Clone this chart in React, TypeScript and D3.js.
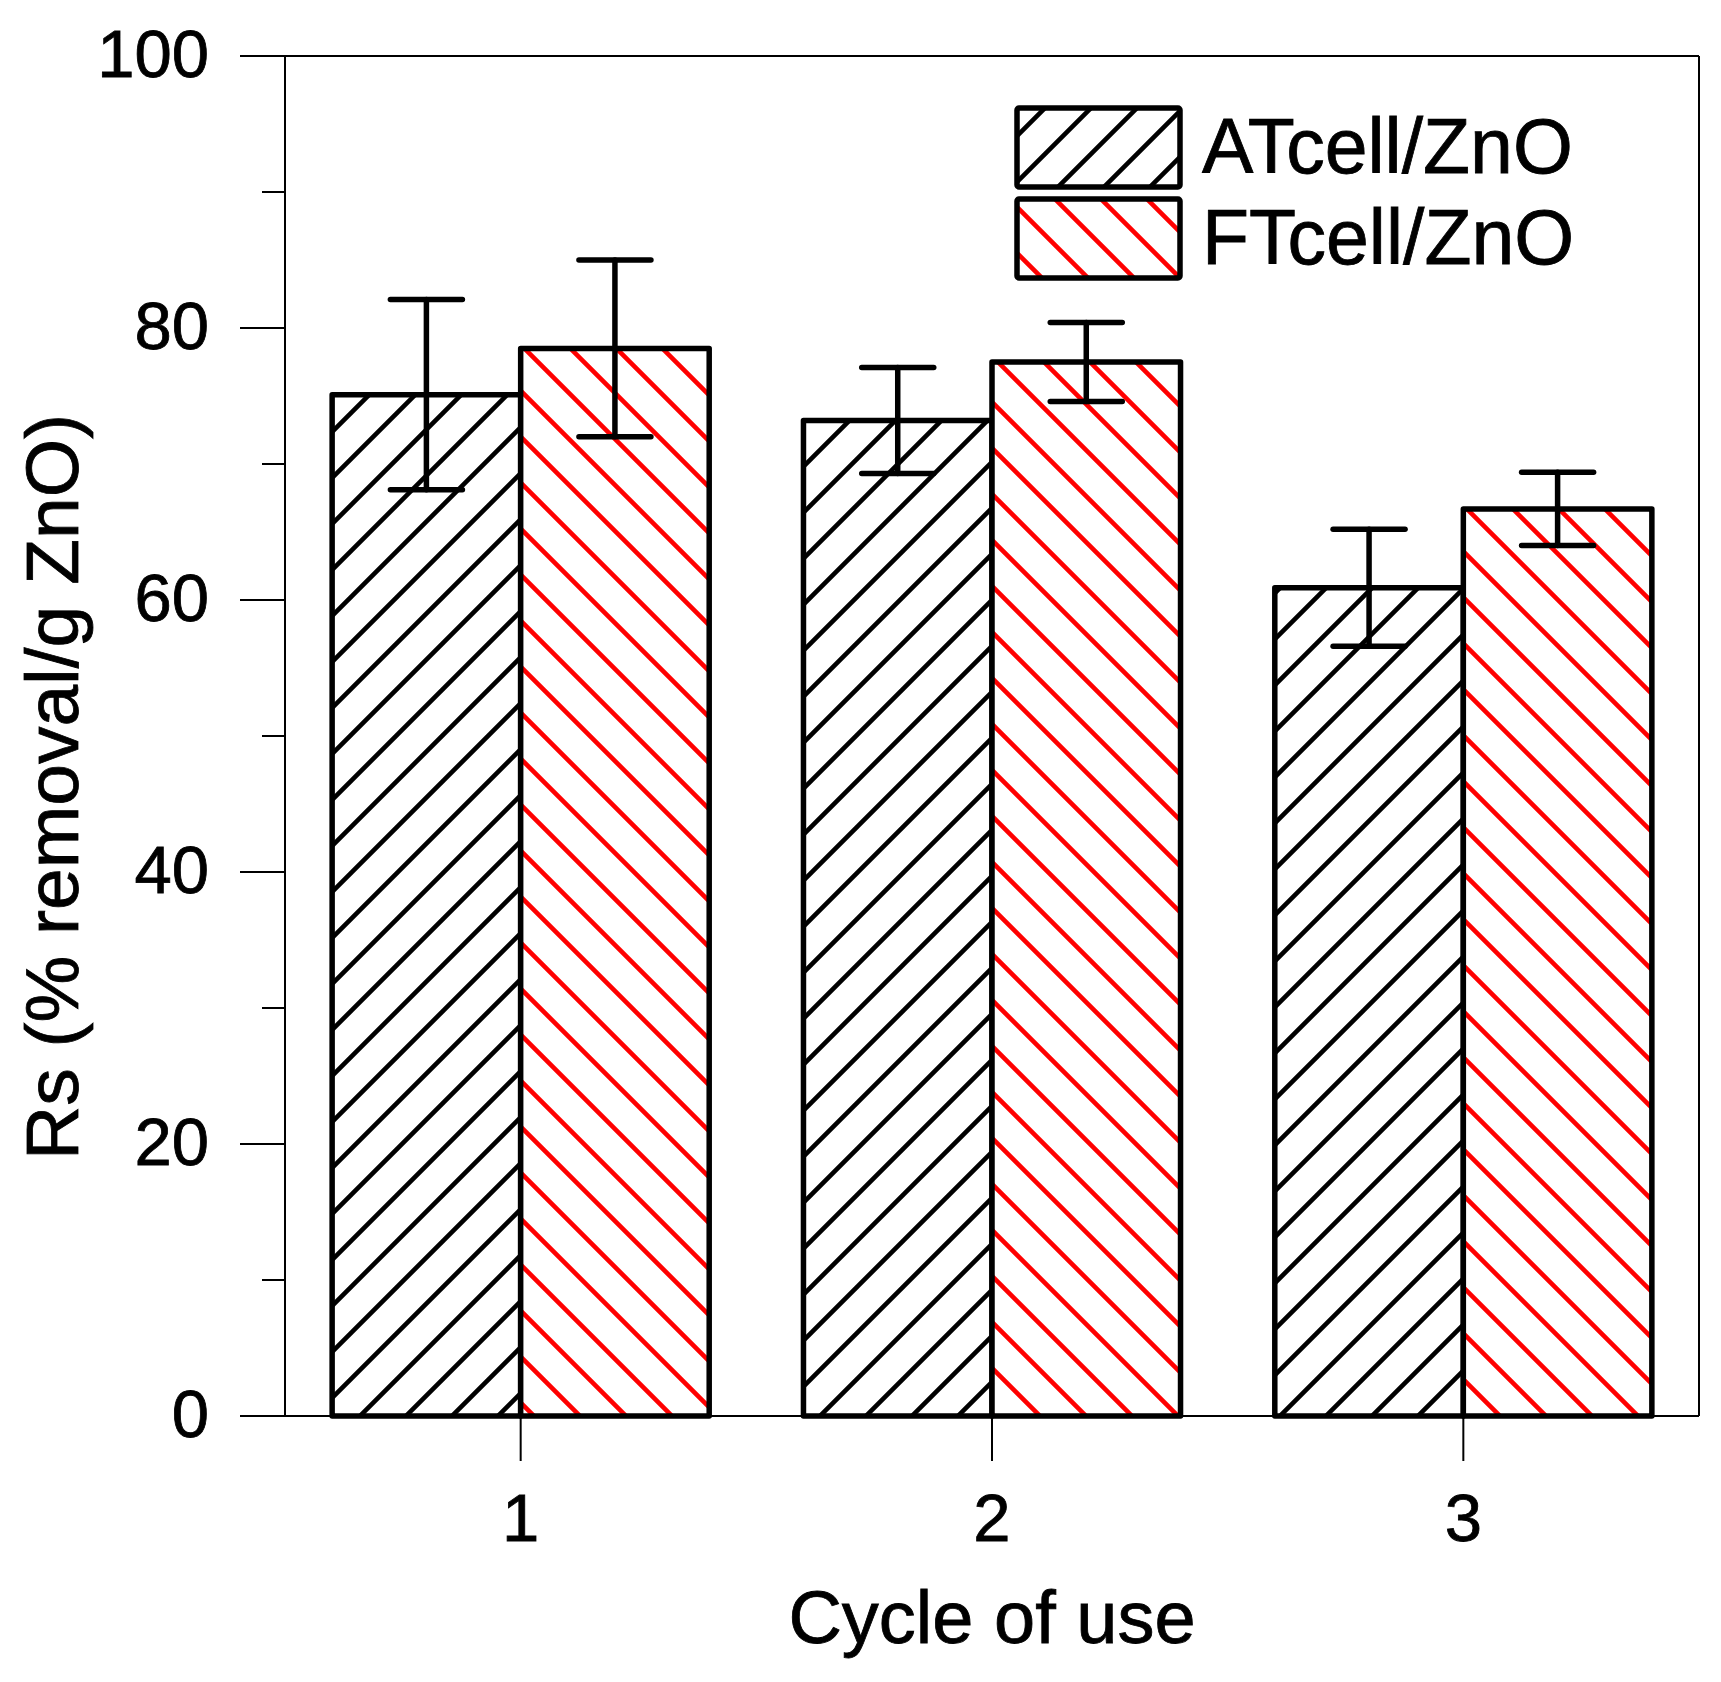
import React from 'react';
import * as d3 from 'd3';

// values
const cycles = [1, 2, 3];
const atValues = [75.1, 73.2, 60.9];
const atErrors = [7.0, 3.9, 4.3];
const ftValues = [78.5, 77.5, 66.7];
const ftErrors = [6.5, 2.9, 2.7];
const seriesNames = ['ATcell/ZnO', 'FTcell/ZnO'];
const yMajorTicks = [0, 20, 40, 60, 80, 100];
const yMinorTicks = [10, 30, 50, 70, 90];

const W = 1721;
const H = 1682;
const FONT = '"Liberation Sans", Arial, sans-serif';

const App: React.FC = () => {
    const left = 285, right = 1699, top = 56, bottom = 1416;

    const x = d3.scaleLinear().domain([0.5, 3.5]).range([left, right]);
    const y = d3.scaleLinear().domain([0, 100]).range([bottom, top]);
    const barW = x(1.4) - x(1);

    const series = [
        { name: seriesNames[0], values: atValues, errors: atErrors, offset: -1, fill: 'url(#hatchAT)' },
        { name: seriesNames[1], values: ftValues, errors: ftErrors, offset: 0, fill: 'url(#hatchFT)' }
    ];

    return (
        <svg width={W} height={H} style={{ position: 'absolute', left: 0, top: 0, background: '#fff' }}>
            <defs>
                <pattern id="hatchAT" patternUnits="userSpaceOnUse" width={46} height={46} x={28} y={0}>
                    <path d="M-10,10 L10,-10 M0,46 L46,0 M36,56 L56,36" stroke="#000" strokeWidth={4.6} />
                </pattern>
                <pattern id="hatchFT" patternUnits="userSpaceOnUse" width={46} height={46} x={38} y={0}>
                    <path d="M0,0 L46,46 M-10,36 L10,56 M36,-10 L56,10" stroke="#ff0000" strokeWidth={4.6} />
                </pattern>
            </defs>

            {/* bars */}
            {series.map(s => (
                <g key={s.name}>
                    {cycles.map((c, i) => {
                        const bx = x(c) + s.offset * barW;
                        const by = y(s.values[i]);
                        return (
                            <g key={c}>
                                <rect x={bx} y={by} width={barW} height={bottom - by} fill="#fff" />
                                <rect x={bx} y={by} width={barW} height={bottom - by}
                                    fill={s.fill} stroke="#000" strokeWidth={5.5} strokeLinejoin="round" />
                            </g>
                        );
                    })}
                </g>
            ))}

            {/* error bars */}
            {series.map(s => (
                <g key={s.name + '-err'} stroke="#000" strokeWidth={5.5} strokeLinecap="round">
                    {cycles.map((c, i) => {
                        const cx = x(c) + s.offset * barW + barW / 2;
                        const hi = y(s.values[i] + s.errors[i]);
                        const lo = y(s.values[i] - s.errors[i]);
                        return (
                            <g key={c}>
                                <line x1={cx} x2={cx} y1={hi} y2={lo} />
                                <line x1={cx - 36} x2={cx + 36} y1={hi} y2={hi} />
                                <line x1={cx - 36} x2={cx + 36} y1={lo} y2={lo} />
                            </g>
                        );
                    })}
                </g>
            ))}

            {/* frame */}
            <g stroke="#000" strokeWidth={2} fill="none">
                <line x1={left - 45} x2={right} y1={top} y2={top} />
                <line x1={left - 45} x2={right} y1={bottom} y2={bottom} />
                <line x1={left} x2={left} y1={top} y2={bottom} />
                <line x1={right} x2={right} y1={top} y2={bottom} />
                {yMajorTicks.map(t => (
                    <line key={t} x1={left - 45} x2={left} y1={y(t)} y2={y(t)} />
                ))}
                {yMinorTicks.map(t => (
                    <line key={t} x1={left - 23} x2={left} y1={y(t)} y2={y(t)} />
                ))}
                {cycles.map(c => (
                    <line key={c} x1={x(c)} x2={x(c)} y1={bottom} y2={bottom + 45} />
                ))}
            </g>

            {/* tick labels */}
            <g fontFamily={FONT} fontSize={67} fill="#000" stroke="#000" strokeWidth={0.8}>
                {yMajorTicks.map(t => (
                    <text key={t} x={209} y={y(t) + 21} textAnchor="end">{t}</text>
                ))}
                {cycles.map(c => (
                    <text key={c} x={x(c)} y={bottom + 125} textAnchor="middle">{c}</text>
                ))}
            </g>

            {/* axis titles */}
            <g fontFamily={FONT} fill="#000" stroke="#000" strokeWidth={0.8}>
                <text x={(left + right) / 2} y={1643} textAnchor="middle" fontSize={74}>
                    Cycle of use
                </text>
                <text transform={`translate(78, 787) rotate(-90)`} textAnchor="middle" fontSize={75}>
                    Rs (% removal/g ZnO)
                </text>
            </g>

            {/* legend */}
            <g fontFamily={FONT} fontSize={77}>
                {series.map((s, i) => (
                    <g key={s.name} transform={`translate(1017, ${108 + i * 91})`}>
                        <rect width={163} height={79} fill="#fff" />
                        <rect width={163} height={79} fill={s.fill} stroke="#000" strokeWidth={5.5} rx={2} />
                        <text x={185} y={65} stroke="#000" strokeWidth={0.8}>{s.name}</text>
                    </g>
                ))}
            </g>
        </svg>
    );
};

export default App;
